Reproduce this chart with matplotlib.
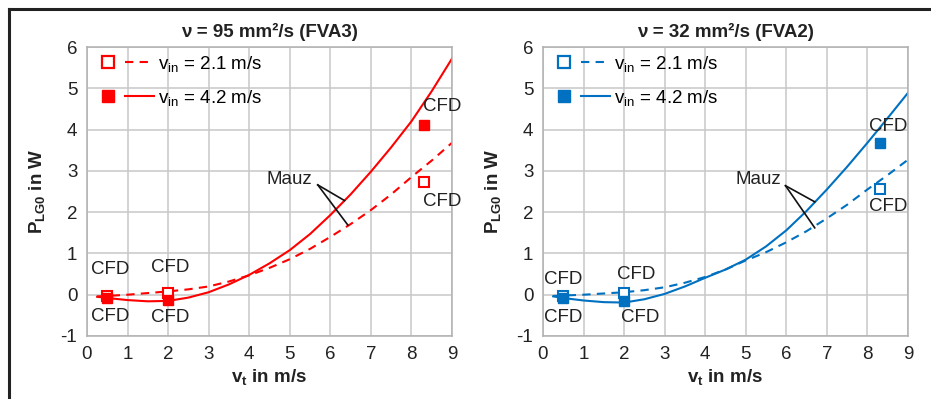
import matplotlib
matplotlib.use("Agg")
import matplotlib.pyplot as plt
from matplotlib.lines import Line2D
from matplotlib.legend_handler import HandlerTuple

plt.rcParams['font.family'] = ['Liberation Sans', 'DejaVu Sans']
plt.rcParams['mathtext.fontset'] = 'custom'
plt.rcParams['mathtext.rm'] = 'Liberation Sans'
plt.rcParams['mathtext.it'] = 'Liberation Sans'
plt.rcParams['mathtext.bf'] = 'Liberation Sans:bold'
plt.rcParams['axes.unicode_minus'] = False

#======================
# data
#======================
vt = [0.25, 0.5, 1, 1.5, 2, 2.5, 3, 3.5, 4, 4.5, 5, 5.5, 6, 6.5, 7, 7.5, 8, 8.5, 9]

# FVA3, nu = 95 mm2/s
fva3_slow = [-0.04, -0.03, 0.0, 0.04, 0.08, 0.13, 0.2, 0.32, 0.47, 0.65, 0.86, 1.11,
             1.4, 1.71, 2.05, 2.43, 2.85, 3.25, 3.68]
fva3_fast = [-0.05, -0.08, -0.13, -0.16, -0.15, -0.07, 0.06, 0.25, 0.48, 0.76, 1.08, 1.47,
             1.93, 2.43, 2.98, 3.57, 4.2, 4.93, 5.72]
# FVA2, nu = 32 mm2/s
fva2_slow = [-0.03, -0.02, 0.0, 0.03, 0.06, 0.11, 0.18, 0.29, 0.43, 0.61, 0.83, 1.03,
             1.27, 1.54, 1.85, 2.18, 2.55, 2.9, 3.27]
fva2_fast = [-0.04, -0.08, -0.14, -0.18, -0.19, -0.11, 0.02, 0.2, 0.41, 0.61, 0.85, 1.17,
             1.56, 2.03, 2.55, 3.1, 3.68, 4.28, 4.89]

cfd_vt = [0.5, 2, 8.3]
cfd_fva3_slow = [-0.02, 0.05, 2.72]
cfd_fva3_fast = [-0.08, -0.14, 4.1]
cfd_fva2_slow = [-0.02, 0.05, 2.57]
cfd_fva2_fast = [-0.07, -0.15, 3.68]

titles = ['ν = 95 mm²/s (FVA3)', 'ν = 32 mm²/s (FVA2)']
colors = ['#ff0000', '#0070c0']
legend_labels = [r'v$_{\mathrm{in}}$ = 2.1 m/s', r'v$_{\mathrm{in}}$ = 4.2 m/s']

# CFD label positions (x, y) and Mauz annotation per panel
cfd_labels = [
    [(0.57, 0.6), (0.57, -0.53), (2.04, 0.65), (2.04, -0.56), (8.77, 4.55), (8.77, 2.25)],
    [(0.5, 0.36), (0.5, -0.56), (2.3, 0.48), (2.4, -0.56), (8.5, 4.07), (8.5, 2.13)],
]
mauz_text = [(5.0, 2.78), (5.3, 2.78)]
mauz_start = [(5.69, 2.66), (5.98, 2.64)]
mauz_ends = [[(6.35, 2.28), (6.43, 1.69)], [(6.7, 2.25), (6.7, 1.62)]]

panels = [
    (fva3_slow, fva3_fast, cfd_fva3_slow, cfd_fva3_fast),
    (fva2_slow, fva2_fast, cfd_fva2_slow, cfd_fva2_fast),
]

fs = 13.5
txt = '#222222'

fig = plt.figure(figsize=(9.31, 3.99), dpi=100)
lefts = [87 / 931, 543 / 931]
w = 365 / 931
b = 1 - 336 / 399
h = 289 / 399

for i in range(2):
    ax = fig.add_axes([lefts[i], b, w, h])
    slow, fast, cs, cf = panels[i]
    c = colors[i]

    ax.plot(vt, slow, '--', color=c, lw=1.5, dashes=(4, 3))
    ax.plot(vt, fast, '-', color=c, lw=1.5)
    ax.plot(cfd_vt, cs, 's', ms=6.5, mfc='white', mec=c, mew=1.5, ls='none')
    ax.plot(cfd_vt, cf, 's', ms=7.5, mfc=c, mec=c, ls='none')

    for (tx, ty) in cfd_labels[i]:
        ax.text(tx, ty, 'CFD', fontsize=fs, ha='center', va='center', color=txt)

    ax.text(mauz_text[i][0], mauz_text[i][1], 'Mauz', fontsize=fs, ha='center', va='center',
            color=txt)
    sx, sy = mauz_start[i]
    for (ex, ey) in mauz_ends[i]:
        ax.plot([sx, ex], [sy, ey], color='#111111', lw=1.2)

    ax.set_xlim(0, 9)
    ax.set_ylim(-1, 6)
    ax.set_xticks(range(0, 10))
    ax.set_yticks(range(-1, 7))
    ax.grid(True, color='#c8c8c8', lw=1.1)
    ax.set_axisbelow(True)
    for s in ax.spines.values():
        s.set_color('#b0b0b0')
        s.set_linewidth(1.1)
    ax.tick_params(length=0, labelsize=fs, colors=txt, pad=7)
    ax.set_title(titles[i], fontsize=fs, fontweight='bold', pad=7, color=txt)
    ax.set_xlabel(r'v$_\mathbf{t}$ in m/s', fontsize=fs, fontweight='bold', color=txt,
                  labelpad=3)
    ax.set_ylabel(r'P$_\mathbf{LG0}$ in W', fontsize=fs, fontweight='bold', color=txt,
                  labelpad=10)

    h_slow = (Line2D([], [], marker='s', ms=8, mfc='white', mec=c, mew=1.6, ls='none'),
              Line2D([], [], color=c, ls='--', lw=1.5, dashes=(4, 3)))
    h_fast = (Line2D([], [], marker='s', ms=9, mfc=c, mec=c, ls='none'),
              Line2D([], [], color=c, ls='-', lw=1.5))
    ax.legend([h_slow, h_fast], legend_labels, loc='upper left', frameon=False,
              bbox_to_anchor=(0.0, 1.0), fontsize=fs, handlelength=3.2,
              handletextpad=0.25, borderaxespad=0.0, borderpad=0.35, labelspacing=0.75,
              handler_map={tuple: HandlerTuple(ndivide=None, pad=0.15)})

# black frame lines on top and left
fig.add_artist(Line2D([9 / 931, 1], [1 - 9 / 399, 1 - 9 / 399], color='#222222', lw=2.2))
fig.add_artist(Line2D([9 / 931, 9 / 931], [0, 1 - 9 / 399], color='#222222', lw=2.2))

fig.savefig('out.png', dpi=100)
